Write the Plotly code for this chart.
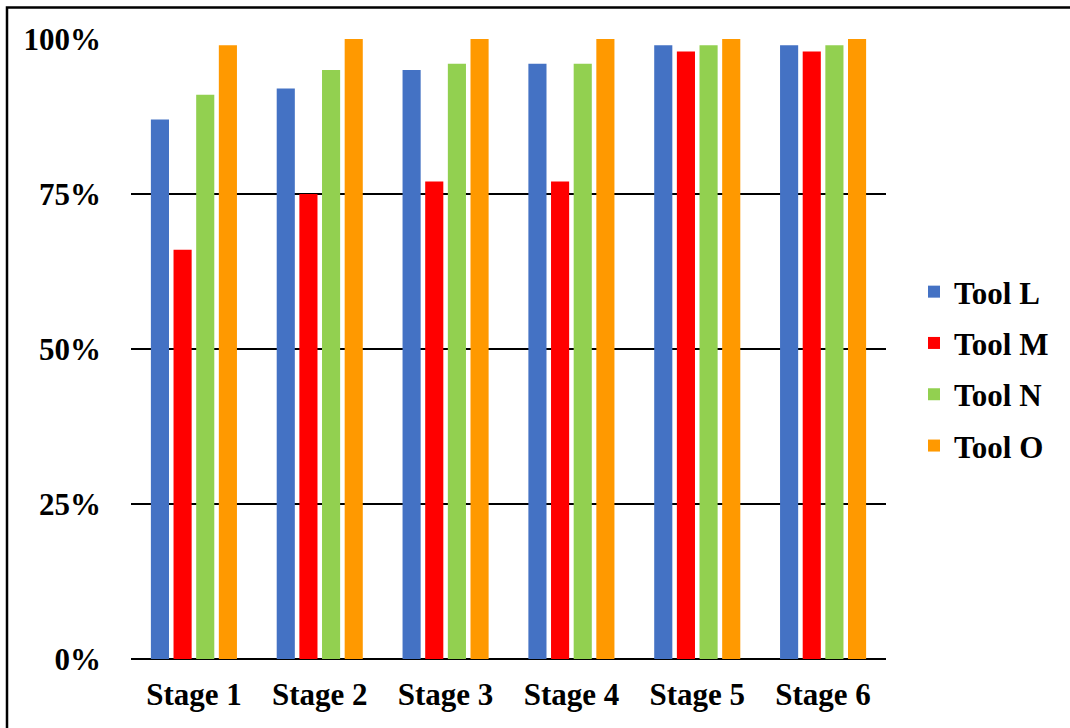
import plotly.graph_objects as go

# Completion rate per stage for each tool
stages = ["Stage 1", "Stage 2", "Stage 3", "Stage 4", "Stage 5", "Stage 6"]
tool_l = [0.87, 0.92, 0.95, 0.96, 0.99, 0.99]
tool_m = [0.66, 0.75, 0.77, 0.77, 0.98, 0.98]
tool_n = [0.91, 0.95, 0.96, 0.96, 0.99, 0.99]
tool_o = [0.99, 1.00, 1.00, 1.00, 1.00, 1.00]
y_ticks = [0, 0.25, 0.5, 0.75, 1.0]
y_tick_text = ["0%", "25%", "50%", "75%", "100%"]

series = [
    ("Tool L", tool_l, "#4472C4"),
    ("Tool M", tool_m, "#FF0000"),
    ("Tool N", tool_n, "#92D050"),
    ("Tool O", tool_o, "#FF9900"),
]

font_family = "Liberation Serif, Times New Roman, serif"
label_font = dict(family=font_family, size=31, color="black", weight="bold")

fig = go.Figure()
for name, vals, color in series:
    fig.add_trace(go.Bar(
        x=stages, y=vals, name=name, legendgroup=name,
        marker=dict(color=color, line=dict(width=0)),
    ))

W, H = 1070, 728
L, R, T, B = 131, 184, 39, 69
pw, ph = W - L - R, H - T - B

fig.update_layout(
    width=W, height=H,
    margin=dict(l=L, r=R, t=T, b=B),
    paper_bgcolor="white", plot_bgcolor="white",
    barmode="group", bargap=0.28, bargroupgap=0.2,
    font=dict(family=font_family, size=31, color="black"),
    showlegend=True,
    legend=dict(
        x=1 + (914 - L - pw) / pw, xanchor="left",
        y=(659 - 369) / ph, yanchor="middle",
        font=label_font,
        tracegroupgap=8, itemwidth=30, bgcolor="rgba(0,0,0,0)",
    ),
    xaxis=dict(
        showgrid=False, showline=False, ticks="",
        tickfont=label_font,
        ticklabelstandoff=14,
    ),
    yaxis=dict(
        range=[0, 1.0], tickvals=y_ticks, ticktext=y_tick_text,
        showgrid=True, gridcolor="black", gridwidth=2,
        zeroline=True, zerolinecolor="black", zerolinewidth=2,
        showline=False, ticks="",
        tickfont=label_font,
        ticklabelstandoff=29,
    ),
)

# Outer frame around the chart (top and left edges fall inside the page)
fig.add_shape(
    type="rect", xref="paper", yref="paper",
    x0=(7 - L) / pw, x1=(1090 - L) / pw,
    y0=(H - T - 760) / ph, y1=1 + (T - 7.5) / ph,
    line=dict(color="black", width=2.5), fillcolor="rgba(0,0,0,0)", layer="above",
)

fig.write_html("out.html")
